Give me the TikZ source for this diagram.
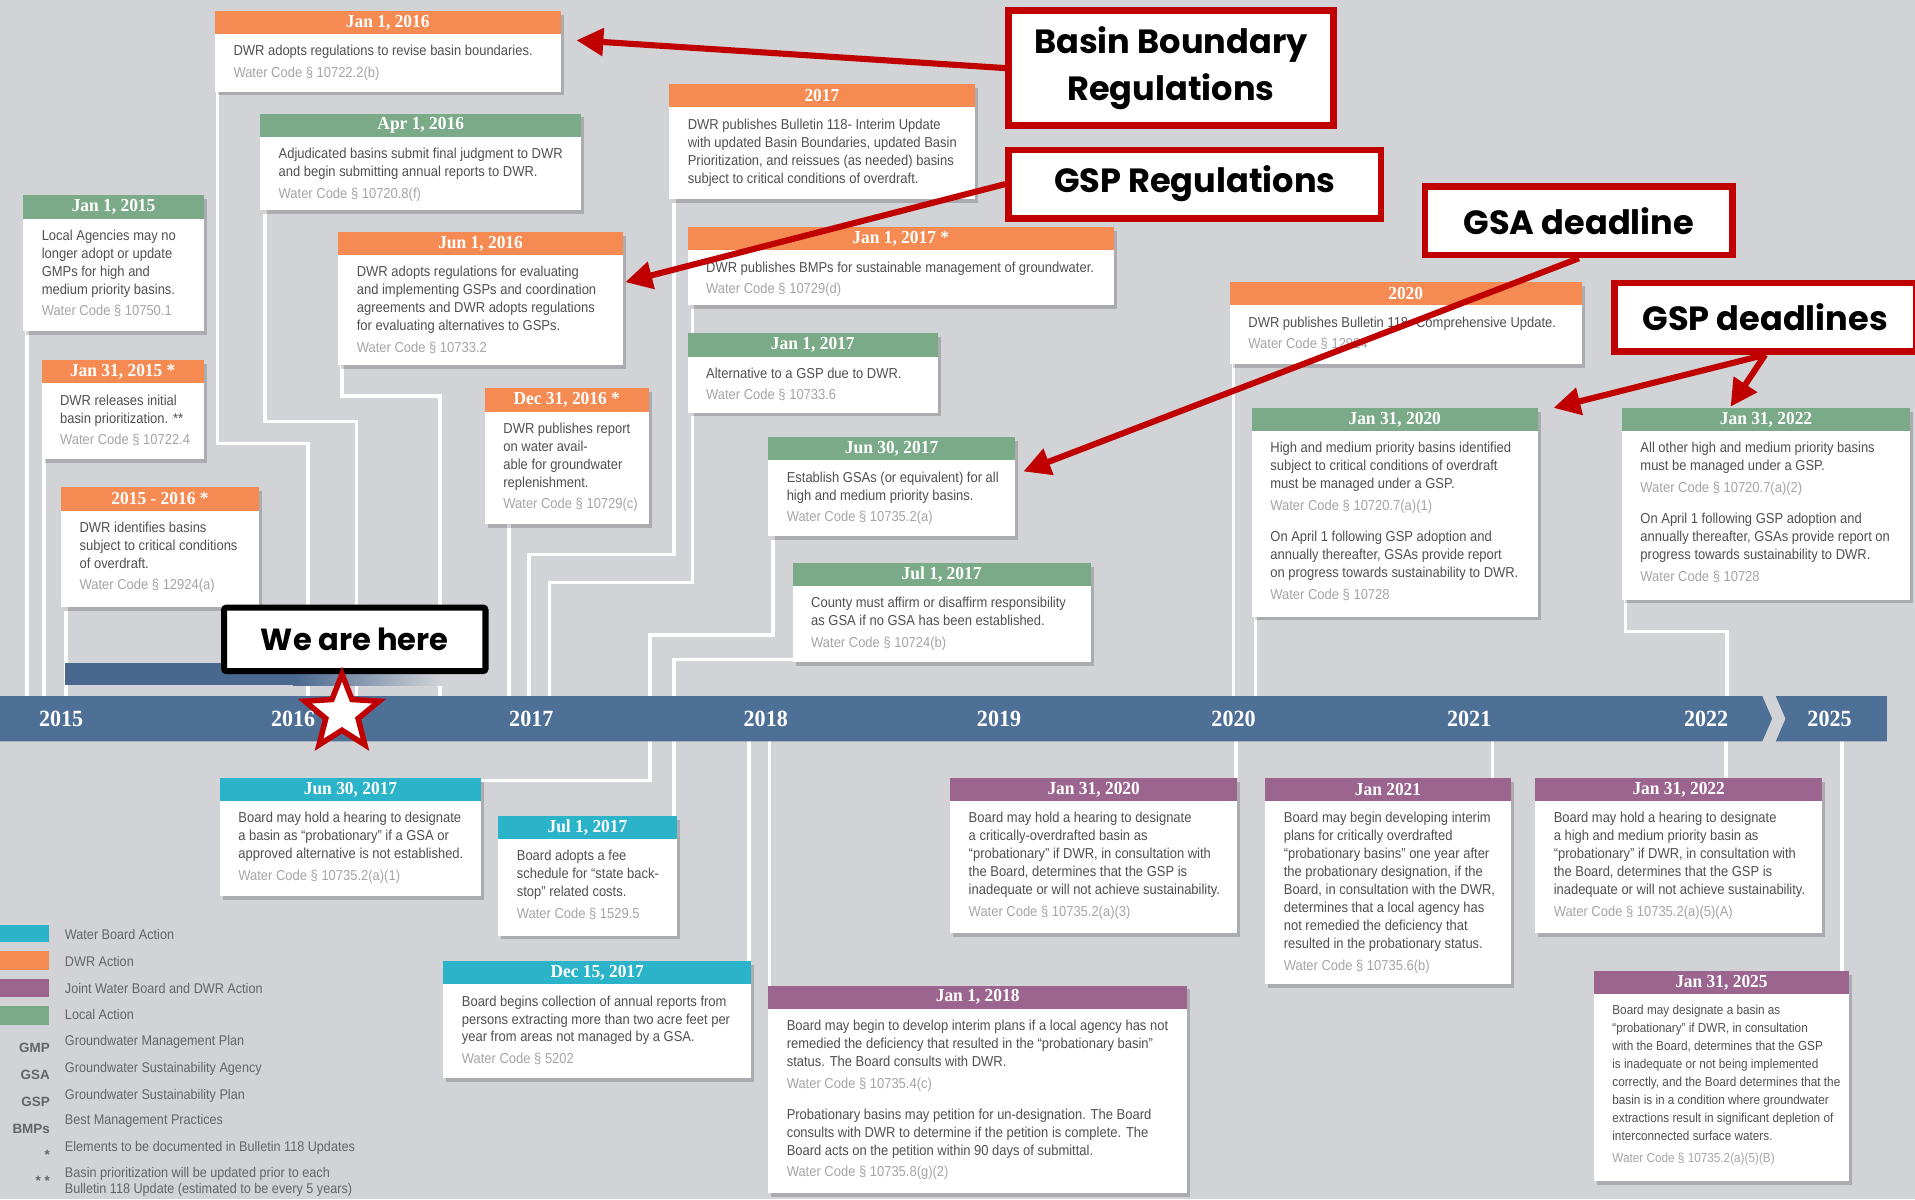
\documentclass[tikz,border=0pt]{standalone}
\usepackage{fontspec}
\setmainfont{Liberation Sans}
\newfontfamily\bodyfont{Liberation Sans}[FakeStretch=0.9]
\newfontfamily\legfont{Liberation Sans}
\newfontfamily\hdrfont{Liberation Serif}[FakeStretch=0.95]
\newfontfamily\callfont{Poppins}
\usetikzlibrary{shapes.geometric,shadows,arrows.meta}
\pgfdeclarelayer{bg}
\pgfsetlayers{bg,main}
\definecolor{bgcol}{RGB}{210,211,215}
\definecolor{barblue}{RGB}{79,112,150}
\definecolor{stripblue}{RGB}{72,104,142}
\definecolor{dwr}{RGB}{245,138,82}
\definecolor{loc}{RGB}{123,170,137}
\definecolor{wb}{RGB}{43,179,202}
\definecolor{joint}{RGB}{155,101,144}
\definecolor{calred}{RGB}{192,0,0}
\definecolor{bodygray}{RGB}{80,80,80}
\definecolor{wcgray}{RGB}{165,165,165}
\definecolor{leggray}{RGB}{100,100,100}
\newcommand{\wc}[1]{\textcolor{wcgray}{Water Code § #1}}
\newcommand{\tlbox}[9][]{%
  \node[boxbody, minimum width=#5pt, minimum height=#6pt, anchor=north west] (#2) at (#3,#4) {};
  \node[hdr, fill=#7, minimum width=#5pt, anchor=north west] (#2h) at (#2.north west) {#8};
  \node[bodytext, anchor=north west, #1] (#2t) at ([xshift=15pt,yshift=-9pt]#2h.south west) {#9};}
\tikzset{
  boxbody/.style={fill=white, inner sep=0pt, outer sep=0pt,
    drop shadow={shadow xshift=2.5pt, shadow yshift=-3pt, opacity=0.18, fill=black}},
  hdr/.style={inner sep=0pt, outer sep=0pt, minimum height=19pt, text=white,
    font=\hdrfont\bfseries\fontsize{15}{15}\selectfont},
  bodytext/.style={inner sep=0pt, align=left, text=bodygray,
    font=\bodyfont\fontsize{11.8}{14.7}\selectfont},
  smallbody/.style={font=\bodyfont\fontsize{10.7}{14.7}\selectfont},
  conn/.style={draw=white, line width=3pt},
  callout/.style={draw=calred, line width=5.5pt, fill=white, inner sep=0pt, align=center,
    font=\callfont\bfseries\fontsize{27.5}{38}\selectfont, anchor=north west},
  redarrow/.style={draw=calred, line width=5pt, -{Triangle[length=22pt,width=22pt]}},
  year/.style={text=white, inner sep=0pt, font=\hdrfont\bfseries\fontsize{19}{19}\selectfont},
  legtext/.style={anchor=west, inner sep=0pt, text=leggray, align=left,
    font=\bodyfont\fontsize{11.5}{13}\selectfont},
  legabbr/.style={anchor=east, inner sep=0pt, text=leggray,
    font=\legfont\bfseries\fontsize{11}{11}\selectfont}
}
\begin{document}
\begin{tikzpicture}[x=1pt,y=-1pt]
\useasboundingbox (0,0) rectangle (1568,982);

% connector coordinates
\coordinate (k1) at (22,570);
\coordinate (k2) at (36,570);
\coordinate (k3) at (54,570);
\coordinate (e4) at (178,363); \coordinate (k4) at (252,570);
\coordinate (e5) at (217,345); \coordinate (k5) at (292,570);
\coordinate (e6) at (280,324); \coordinate (k6) at (360,570);
\coordinate (k7) at (417,570);
\coordinate (e8) at (552,454); \coordinate (k8) at (433,570);
\coordinate (e9) at (567,477); \coordinate (k9) at (450,570);
\coordinate (e10) at (633,520); \coordinate (k10) at (532,570);
\coordinate (e11) at (552,540); \coordinate (k11) at (552,570);
\coordinate (k12) at (1010,570);
\coordinate (k13) at (1028,570);
\coordinate (e14) at (1331,517); \coordinate (k14) at (1414,570);
\coordinate (m1) at (532,607); \coordinate (f1) at (532,639);
\coordinate (m2) at (552,607);
\coordinate (m3) at (613,607);
\coordinate (m4) at (630,607);
\coordinate (m5) at (1012,607);
\coordinate (m6) at (1222,607);
\coordinate (m7) at (1413,607);
\coordinate (m8) at (1508,607);

% boxes above the timeline
\tlbox{a1}{176}{9}{283}{66}{dwr}{Jan 1, 2016}{DWR adopts regulations to revise basin boundaries.\\[3pt]\wc{10722.2(b)}}
\tlbox{a2}{213}{93}{263}{79}{loc}{Apr 1, 2016}{Adjudicated basins submit final judgment to DWR\\and begin submitting annual reports to DWR.\\[3pt]\wc{10720.8(f)}}
\tlbox{a3}{19}{160}{148}{111}{loc}{Jan 1, 2015}{Local Agencies may no\\longer adopt or update\\GMPs for high and\\medium priority basins.\\[3pt]\wc{10750.1}}
\tlbox{a4}{277}{190}{233}{109}{dwr}{Jun 1, 2016}{DWR adopts regulations for evaluating\\and implementing GSPs and coordination\\agreements and DWR adopts regulations\\for evaluating alternatives to GSPs.\\[3pt]\wc{10733.2}}
\tlbox{a5}{34}{295}{133}{81}{dwr}{Jan 31, 2015 *}{DWR releases initial\\basin prioritization. **\\[3pt]\wc{10722.4}}
\tlbox{a6}{50}{399}{162}{98}{dwr}{2015 - 2016 *}{DWR identifies basins\\subject to critical conditions\\of overdraft.\\[3pt]\wc{12924(a)}}
\tlbox{a7}{397}{318}{134}{111}{dwr}{Dec 31, 2016 *}{DWR publishes report\\on water avail-\\able for groundwater\\replenishment.\\[3pt]\wc{10729(c)}}
\tlbox{a8}{548}{69}{250}{94}{dwr}{2017}{DWR publishes Bulletin 118- Interim Update\\with updated Basin Boundaries, updated Basin\\Prioritization, and reissues (as needed) basins\\subject to critical conditions of overdraft.}
\tlbox{a9}{563}{186}{349}{64}{dwr}{Jan 1, 2017 *}{DWR publishes BMPs for sustainable management of groundwater.\\[3pt]\wc{10729(d)}}
\tlbox{a10}{563}{273}{205}{65}{loc}{Jan 1, 2017}{Alternative to a GSP due to DWR.\\[3pt]\wc{10733.6}}
\tlbox{a11}{629}{358}{202}{81}{loc}{Jun 30, 2017}{Establish GSAs (or equivalent) for all\\high and medium priority basins.\\[3pt]\wc{10735.2(a)}}
\tlbox{a12}{649}{461}{244}{81}{loc}{Jul 1, 2017}{County must affirm or disaffirm responsibility\\as GSA if no GSA has been established.\\[3pt]\wc{10724(b)}}
\tlbox{a13}{1007}{231}{288}{67}{dwr}{2020}{DWR publishes Bulletin 118- Comprehensive Update.\\[3pt]\wc{12924}}
\tlbox{a14}{1025}{334}{234}{171}{loc}{Jan 31, 2020}{High and medium priority basins identified\\subject to critical conditions of overdraft\\must be managed under a GSP.\\[3pt]\wc{10720.7(a)(1)}\\[11pt]On April 1 following GSP adoption and\\annually thereafter, GSAs provide report\\on progress towards sustainability to DWR.\\[3pt]\wc{10728}}
\tlbox{a15}{1328}{334}{236}{157}{loc}{Jan 31, 2022}{All other high and medium priority basins\\must be managed under a GSP.\\[3pt]\wc{10720.7(a)(2)}\\[11pt]On April 1 following GSP adoption and\\annually thereafter, GSAs provide report on\\progress towards sustainability to DWR.\\[3pt]\wc{10728}}

% boxes below the timeline
\tlbox{b1}{180}{637}{214}{97}{wb}{Jun 30, 2017}{Board may hold a hearing to designate\\a basin as “probationary” if a GSA or\\approved alternative is not established.\\[3pt]\wc{10735.2(a)(1)}}
\tlbox{b2}{408}{668}{146}{98}{wb}{Jul 1, 2017}{Board adopts a fee\\schedule for “state back-\\stop” related costs.\\[3pt]\wc{1529.5}}
\tlbox{b3}{363}{787}{252}{96}{wb}{Dec 15, 2017}{Board begins collection of annual reports from\\persons extracting more than two acre feet per\\year from areas not managed by a GSA.\\[3pt]\wc{5202}}
\tlbox{b4}{629}{807}{343}{170}{joint}{Jan 1, 2018}{Board may begin to develop interim plans if a local agency has not\\remedied the deficiency that resulted in the “probationary basin”\\status. The Board consults with DWR.\\[3pt]\wc{10735.4(c)}\\[11pt]Probationary basins may petition for un-designation. The Board\\consults with DWR to determine if the petition is complete. The\\Board acts on the petition within 90 days of submittal.\\[3pt]\wc{10735.8(g)(2)}}
\tlbox{b5}{778}{637}{235}{127}{joint}{Jan 31, 2020}{Board may hold a hearing to designate\\a critically-overdrafted basin as\\“probationary” if DWR, in consultation with\\the Board, determines that the GSP is\\inadequate or will not achieve sustainability.\\[3pt]\wc{10735.2(a)(3)}}
\tlbox{b6}{1036}{637}{201}{169}{joint}{Jan 2021}{Board may begin developing interim\\plans for critically overdrafted\\“probationary basins” one year after\\the probationary designation, if the\\Board, in consultation with the DWR,\\determines that a local agency has\\not remedied the deficiency that\\resulted in the probationary status.\\[3pt]\wc{10735.6(b)}}
\tlbox{b7}{1257}{637}{235}{127}{joint}{Jan 31, 2022}{Board may hold a hearing to designate\\a high and medium priority basin as\\“probationary” if DWR, in consultation with\\the Board, determines that the GSP is\\inadequate or will not achieve sustainability.\\[3pt]\wc{10735.2(a)(5)(A)}}
\tlbox[smallbody]{b8}{1305}{795}{209}{172}{joint}{Jan 31, 2025}{Board may designate a basin as\\“probationary” if DWR, in consultation\\with the Board, determines that the GSP\\is inadequate or not being implemented\\correctly, and the Board determines that the\\basin is in a condition where groundwater\\extractions result in significant depletion of\\interconnected surface waters.\\[3pt]\wc{10735.2(a)(5)(B)}}

% background and connectors, on the layer behind the boxes
\begin{pgfonlayer}{bg}
\fill[bgcol] (0,0) rectangle (1568,982);
\draw[conn] (a3.south west -| k1) -- (k1);
\draw[conn] (a5.south west -| k2) -- (k2);
\draw[conn] (a6.south west -| k3) -- (k3);
\draw[conn] (a1.south west -| e4) -- (e4) -| (k4);
\draw[conn] (a2.south west -| e5) -- (e5) -| (k5);
\draw[conn] (a4.south west -| e6) -- (e6) -| (k6);
\draw[conn] (a7.south west -| k7) -- (k7);
\draw[conn] (a8.south west -| e8) -- (e8) -| (k8);
\draw[conn] (a9.south west -| e9) -- (e9) -| (k9);
\draw[conn] (a11.south west -| e10) -- (e10) -| (k10);
\draw[conn] (a12.west |- e11) -- (e11) -- (k11);
\draw[conn] (a13.south west -| k12) -- (k12);
\draw[conn] (a14.south west -| k13) -- (k13);
\draw[conn] (a15.south west -| e14) -- (e14) -| (k14);
\draw[conn] (m1) -- (f1) -- (b1.east |- f1);
\draw[conn] (m2) -- (b2.north -| m2);
\draw[conn] (m3) -- (b3.north -| m3);
\draw[conn] (m4) -- (b4.north -| m4);
\draw[conn] (m5) -- (b5.north -| m5);
\draw[conn] (m6) -- (b6.north -| m6);
\draw[conn] (m7) -- (b7.north -| m7);
\draw[conn] (m8) -- (b8.north -| m8);
\end{pgfonlayer}

% timeline bar
\fill[barblue] (0,570) -- (1443,570) -- (1451,588.5) -- (1443,607) -- (0,607) -- cycle;
\fill[barblue] (1454,570) -- (1545,570) -- (1545,607) -- (1454,607) -- (1462,588.5) -- cycle;

% progress strip
\fill[stripblue] (53,543) rectangle (240,561);
\shade[left color=stripblue, right color=bgcol] (240,543) rectangle (362,561);

% year labels
\node[year] (y2015) at (50,589) {2015};
\node[year] (y2016) at (240,589) {2016};
\node[year] (y2017) at (435,589) {2017};
\node[year] (y2018) at (627,589) {2018};
\node[year] (y2019) at (818,589) {2019};
\node[year] (y2020) at (1010,589) {2020};
\node[year] (y2021) at (1203,589) {2021};
\node[year] (y2022) at (1397,589) {2022};
\node[year] (y2025) at (1498,589) {2025};

% callouts
\node[callout, minimum width=266pt, minimum height=94pt] (bbr) at (823,6) {Basin Boundary\\Regulations};
\node[callout, minimum width=305pt, minimum height=56pt] (gspr) at (823,120) {GSP Regulations};
\node[callout, minimum width=252pt, minimum height=56pt] (gsad) at (1164,150) {GSA deadline};
\node[callout, minimum width=247pt, minimum height=56pt] (gspd) at (1319,229) {GSP deadlines};
\coordinate (t1) at (472,33);
\coordinate (t2) at (512,231);
\coordinate (t3) at (838,386);
\coordinate (t4) at (1272,334);
\coordinate (t5) at (1417,333);
\draw[redarrow] (bbr.west) -- (t1);
\draw[redarrow] (gspr.west) -- (t2);
\draw[redarrow] (gsad.south) -- (t3);
\draw[redarrow] (gspd.south) -- (t4);
\draw[redarrow] (gspd.south) -- (t5);

% we are here
\node[draw=black, line width=5pt, fill=white, rounded corners=2pt, inner sep=0pt,
  minimum width=214pt, minimum height=52pt, anchor=north west,
  font=\callfont\bfseries\fontsize{25}{25}\selectfont] (here) at (181,495) {We are here};
\node[star, star points=5, star point ratio=2.3, minimum size=64pt, inner sep=0pt,
  fill=white, draw=calred, line width=4.5pt] (star) at (280,584) {};

% legend
\fill[wb] (0,757) rectangle (40,771);
\fill[dwr] (0,779) rectangle (40,794);
\fill[joint] (0,802) rectangle (40,816);
\fill[loc] (0,824) rectangle (40,839);
\node[legtext] (l1) at (53,765) {Water Board Action};
\node[legtext] (l2) at (53,787) {DWR Action};
\node[legtext] (l3) at (53,809) {Joint Water Board and DWR Action};
\node[legtext] (l4) at (53,831) {Local Action};
\node[legtext] (l5) at (53,853) {Groundwater Management Plan};
\node[legtext] (l6) at (53,875) {Groundwater Sustainability Agency};
\node[legtext] (l7) at (53,897) {Groundwater Sustainability Plan};
\node[legtext] (l8) at (53,918) {Best Management Practices};
\node[legtext] (l9) at (53,940) {Elements to be documented in Bulletin 118 Updates};
\node[legtext] (l10) at (53,968) {Basin prioritization will be updated prior to each\\Bulletin 118 Update (estimated to be every 5 years)};
\node[legabbr] (g1) at (41,858) {GMP};
\node[legabbr] (g2) at (41,880) {GSA};
\node[legabbr] (g3) at (41,902) {GSP};
\node[legabbr] (g4) at (41,924) {BMPs};
\node[legabbr] (g5) at (41,946) {*};
\node[legabbr] (g6) at (41,967) {* *};
\end{tikzpicture}
\end{document}
